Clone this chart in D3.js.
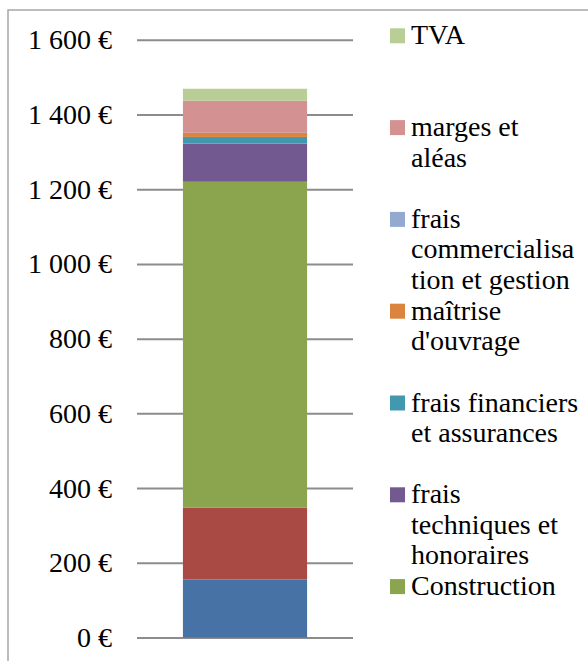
<!DOCTYPE html>
<html>
<head>
<meta charset="utf-8">
<script src="https://cdn.jsdelivr.net/npm/d3@7"></script>
<style>
  body { margin: 0; background: #fff; }
  svg { display: block; font-family: "Liberation Serif", "Times New Roman", serif; }
</style>
</head>
<body>
<svg width="588" height="661"></svg>
<script>
// stack order, bottom to top
var seriesNames = ["série 1", "série 2", "Construction", "frais techniques et honoraires",
  "frais financiers et assurances", "maîtrise d'ouvrage",
  "frais commercialisation et gestion", "marges et aléas", "TVA"];
var seriesValues = [155, 193, 872, 102, 18, 11, 0, 86, 32];
var seriesColors = ["#4672a6", "#aa4a44", "#8aa54e", "#72598f", "#4299af",
  "#db843d", "#93a9cf", "#d39291", "#b9cd96"];
var categories = [""];
var tickValues = [0, 200, 400, 600, 800, 1000, 1200, 1400, 1600];

// legend (only the last 7 series fit in the box), top to bottom
var legendSeries = ["TVA", "marges et aléas", "frais commercialisation et gestion",
  "maîtrise d'ouvrage", "frais financiers et assurances",
  "frais techniques et honoraires", "Construction"];
var legendLines = [["TVA"], ["marges et", "aléas"], ["frais", "commercialisa", "tion et gestion"],
  ["maîtrise", "d'ouvrage"], ["frais financiers", "et assurances"],
  ["frais", "techniques et", "honoraires"], ["Construction"]];

var svg = d3.select("svg");

// chart frame (right / bottom edges fall outside)
svg.append("rect")
  .attr("x", 8).attr("y", 10)
  .attr("width", 700).attr("height", 700)
  .attr("fill", "none")
  .attr("stroke", "#a6a6a6")
  .attr("stroke-width", 1.5);

var y = d3.scaleLinear().domain([0, 1600]).range([637.5, 39.8]);
var x = d3.scaleBand().domain(categories).range([137, 353]).padding(0.27);

var fr = d3.formatLocale({ decimal: ",", thousands: "\u00a0", grouping: [3], currency: ["", "\u00a0€"] });

var axis = d3.axisLeft(y)
  .tickValues(tickValues)
  .tickSize(216)
  .tickPadding(25)
  .tickFormat(fr.format("$,"));

var gAxis = svg.append("g")
  .attr("transform", "translate(353,0)")
  .call(axis);
gAxis.select(".domain").remove();
gAxis.selectAll(".tick line")
  .attr("stroke", "#8c8c8c")
  .attr("stroke-width", 2);
gAxis.selectAll(".tick text")
  .attr("fill", "#000")
  .style("font-size", "28px")
  .style("font-family", "Liberation Serif, serif");

// stacked bar
var row = {};
seriesNames.forEach(function(n, i) { row[n] = seriesValues[i]; });
var stack = d3.stack().keys(seriesNames)([row]);

svg.append("g")
  .selectAll("rect")
  .data(stack)
  .enter()
  .append("rect")
  .attr("x", x(""))
  .attr("width", x.bandwidth())
  .attr("y", function(d) { return y(d[0][1]); })
  .attr("height", function(d) { return y(d[0][0]) - y(d[0][1]); })
  .attr("fill", function(d, i) { return seriesColors[i]; });

// legend
var legend = svg.append("g");
var item = legend.selectAll("g")
  .data(legendSeries)
  .enter()
  .append("g")
  .attr("transform", function(d, i) { return "translate(390," + (44.3 + i * 91.8) + ")"; });

item.append("rect")
  .attr("x", 0).attr("y", -16)
  .attr("width", 15).attr("height", 15)
  .attr("fill", function(d) { return seriesColors[seriesNames.indexOf(d)]; });

item.append("text")
  .attr("x", 21)
  .style("font-size", "28px")
  .attr("fill", "#000")
  .selectAll("tspan")
  .data(function(d, i) { return legendLines[i]; })
  .enter()
  .append("tspan")
  .attr("x", 21)
  .attr("y", function(d, j) { return j * 30.5; })
  .text(function(d) { return d; });
</script>
</body>
</html>
